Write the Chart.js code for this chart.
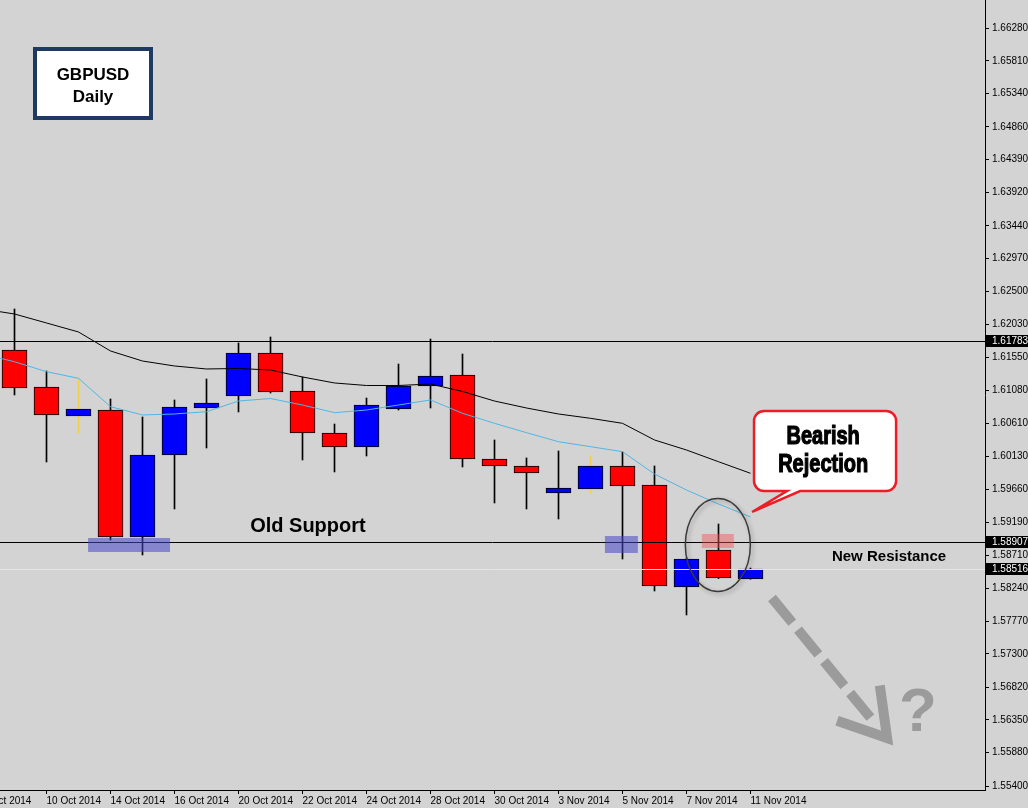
<!DOCTYPE html>
<html>
<head>
<meta charset="utf-8">
<script src="https://cdn.jsdelivr.net/npm/chart.js@4.4.1/dist/chart.umd.min.js"></script>
<style>
  html, body { margin: 0; padding: 0; background: #d3d3d3; }
  #caixa { width: 1028px; height: 808px; }
</style>
</head>
<body>
<div id="caixa"><canvas id="grafico" width="1028" height="808"></canvas></div>
<script>
// daily bars, GBPUSD (first day only feeds the moving averages, it sits off screen)
const dates = ['8 Oct 2014', '9 Oct 2014', '10 Oct 2014', '13 Oct 2014', '14 Oct 2014', '15 Oct 2014',
  '16 Oct 2014', '17 Oct 2014', '20 Oct 2014', '21 Oct 2014', '22 Oct 2014', '23 Oct 2014',
  '24 Oct 2014', '27 Oct 2014', '28 Oct 2014', '29 Oct 2014', '30 Oct 2014', '31 Oct 2014',
  '3 Nov 2014', '4 Nov 2014', '5 Nov 2014', '6 Nov 2014', '7 Nov 2014', '10 Nov 2014', '11 Nov 2014'];

const opens  = [null, 1.61659, 1.61128, 1.60712, 1.60798, 1.58976, 1.60153, 1.60827, 1.60999, 1.61616,
  1.61071, 1.60468, 1.60267, 1.60813, 1.61143, 1.61300, 1.60095, 1.59995, 1.59607, 1.59665,
  1.59995, 1.59722, 1.58258, 1.58789, 1.58373];
const highs  = [null, 1.62248, 1.61358, 1.61243, 1.60956, 1.60698, 1.60942, 1.61243, 1.61760, 1.61846,
  1.61272, 1.60597, 1.60970, 1.61458, 1.61817, 1.61602, 1.60368, 1.60110, 1.60210, 1.60138,
  1.60196, 1.59995, 1.58675, 1.59162, 1.58530];
const lows   = [null, 1.61014, 1.60052, 1.60468, 1.58933, 1.58718, 1.59378, 1.60253, 1.60770, 1.61042,
  1.60081, 1.59909, 1.60138, 1.60798, 1.60827, 1.59980, 1.59464, 1.59378, 1.59234, 1.59607,
  1.58660, 1.58201, 1.57857, 1.58380, 1.58370];
const closes = [null, 1.61114, 1.60727, 1.60813, 1.58976, 1.60153, 1.60841, 1.60899, 1.61616, 1.61057,
  1.60468, 1.60267, 1.60870, 1.61143, 1.61286, 1.60095, 1.59995, 1.59894, 1.59679, 1.59995,
  1.59708, 1.58273, 1.58660, 1.58387, 1.58516];

const maSlow = [1.62248, 1.62176, 1.62047, 1.61918, 1.61645, 1.61501, 1.61430, 1.61387, 1.61394, 1.61372,
  1.61272, 1.61186, 1.61150, 1.61150, 1.61171, 1.61064, 1.60927, 1.60827, 1.60741, 1.60679,
  1.60607, 1.60368, 1.60224, 1.60056, 1.59890];
const maFast = [1.61602, 1.61491, 1.61348, 1.61253, 1.60846, 1.60727, 1.60741, 1.60774, 1.60927, 1.60963,
  1.60870, 1.60760, 1.60798, 1.60870, 1.60942, 1.60751, 1.60607, 1.60473, 1.60343, 1.60272,
  1.60200, 1.59880, 1.59650, 1.59449, 1.59263];

const priceTicks = [1.66280, 1.65810, 1.65340, 1.64860, 1.64390, 1.63920, 1.63440, 1.62970, 1.62500,
  1.62030, 1.61550, 1.61080, 1.60610, 1.60130, 1.59660, 1.59190, 1.58710, 1.58240, 1.57770,
  1.57300, 1.56820, 1.56350, 1.55880, 1.55400];
const dateTicks = [0, 2, 4, 6, 8, 10, 12, 14, 16, 18, 20, 22, 24];

const levelPrices = [1.61783, 1.58907, 1.58516]; // drawn lines + price tags
const yellowWicks = ['13 Oct 2014', '4 Nov 2014'];

// ---- estilos
const corAlta = '#0000ff';
const corBaixa = '#ff0000';
const levelColors = ['#000000', '#000000', '#e4e4e4'];

const dias = dates.map((d, i) => i).filter(i => opens[i] !== null);
const corpos = dias.map(i => ({ x: i, y: [opens[i], closes[i]] }));
const pavios = dias.map(i => ({ x: i, y: [lows[i], highs[i]] }));
const corCorpo = dias.map(i => closes[i] >= opens[i] ? corAlta : corBaixa);
const corPavio = dias.map(i => yellowWicks.includes(dates[i]) ? '#f2d04a' : '#000000');

function semPadding(s) {
  s.paddingLeft = 0; s.paddingRight = 0; s.paddingTop = 0; s.paddingBottom = 0;
}

const marcas = {
  id: 'marcas',
  afterDatasetsDraw(chart) {
    const ctx = chart.ctx;
    const X = v => chart.scales.x.getPixelForValue(v);
    const Y = v => chart.scales.y.getPixelForValue(v);
    const area = chart.chartArea;
    ctx.save();

    // horizontal levels
    levelPrices.forEach((p, k) => {
      const y = Math.round(Y(p)) + 0.5;
      ctx.strokeStyle = levelColors[k];
      ctx.lineWidth = 1;
      ctx.beginPath();
      ctx.moveTo(area.left, y);
      ctx.lineTo(area.right, y);
      ctx.stroke();
    });

    // support zones
    ctx.fillStyle = 'rgba(70,70,200,0.55)';
    [[3.30, 5.86, 1.58961, 1.58761], [19.45, 20.48, 1.58990, 1.58746]].forEach(z => {
      ctx.fillRect(X(z[0]), Y(z[2]), X(z[1]) - X(z[0]), Y(z[3]) - Y(z[2]));
    });
    ctx.fillStyle = 'rgba(240,80,80,0.45)';
    ctx.fillRect(X(22.48), Y(1.59019), X(23.48) - X(22.48), Y(1.58818) - Y(1.59019));

    // ellipse round the rejection candle
    ctx.save();
    ctx.shadowColor = 'rgba(0,0,0,0.3)';
    ctx.shadowBlur = 4;
    ctx.shadowOffsetX = 2;
    ctx.shadowOffsetY = 2;
    ctx.strokeStyle = '#3a3a3a';
    ctx.lineWidth = 1.5;
    ctx.beginPath();
    ctx.ellipse(X(22.98), Y(1.58861), 32.5, 46.5, 0, 0, Math.PI * 2);
    ctx.stroke();
    ctx.restore();

    // texts
    ctx.fillStyle = '#000';
    ctx.textAlign = 'center';
    ctx.textBaseline = 'middle';
    ctx.font = 'bold 20px "Liberation Sans", Arial, sans-serif';
    ctx.fillText('Old Support', X(10.17), Y(1.59120));
    ctx.font = 'bold 15px "Liberation Sans", Arial, sans-serif';
    ctx.fillText('New Resistance', X(28.33), Y(1.58689));

    // callout
    const L = X(24.11), R = X(28.55), T = Y(1.60784), B = Y(1.59636), r = 10;
    ctx.beginPath();
    ctx.moveTo(L + r, T);
    ctx.lineTo(R - r, T);
    ctx.arcTo(R, T, R, T + r, r);
    ctx.lineTo(R, B - r);
    ctx.arcTo(R, B, R - r, B, r);
    ctx.lineTo(X(25.55), B);
    ctx.lineTo(X(24.05), Y(1.59335));
    ctx.lineTo(X(25.14), B);
    ctx.lineTo(L + r, B);
    ctx.arcTo(L, B, L, B - r, r);
    ctx.lineTo(L, T + r);
    ctx.arcTo(L, T, L + r, T, r);
    ctx.closePath();
    ctx.fillStyle = '#ffffff';
    ctx.fill();
    ctx.strokeStyle = '#ee1c25';
    ctx.lineWidth = 2.5;
    ctx.stroke();
    ctx.fillStyle = '#000';
    ctx.strokeStyle = '#000';
    ctx.lineWidth = 1.2;
    ctx.font = 'bold 25px "Liberation Sans", Arial, sans-serif';
    const cx = X(26.27);
    ctx.save();
    ctx.translate(cx, 0);
    ctx.scale(0.8, 1);
    ctx.fillText('Bearish', 0, Y(1.60411));
    ctx.strokeText('Bearish', 0, Y(1.60411));
    ctx.fillText('Rejection', 0, Y(1.60009));
    ctx.strokeText('Rejection', 0, Y(1.60009));
    ctx.restore();

    // dashed arrow and question mark
    const x0 = X(24.67), y0 = Y(1.58101), x1 = X(28.27), y1 = Y(1.56091);
    const ang = Math.atan2(y1 - y0, x1 - x0);
    ctx.strokeStyle = '#9b9b9b';
    ctx.lineWidth = 10;
    ctx.setLineDash([32, 9]);
    ctx.beginPath();
    ctx.moveTo(x0, y0);
    ctx.lineTo(x1 - 20 * Math.cos(ang), y1 - 20 * Math.sin(ang));
    ctx.stroke();
    ctx.setLineDash([]);
    ctx.lineCap = 'square';
    ctx.beginPath();
    ctx.moveTo(x1 - 48 * Math.cos(ang - 0.55), y1 - 48 * Math.sin(ang - 0.55));
    ctx.lineTo(x1, y1);
    ctx.lineTo(x1 - 48 * Math.cos(ang + 0.55), y1 - 48 * Math.sin(ang + 0.55));
    ctx.stroke();
    ctx.fillStyle = '#9b9b9b';
    ctx.font = 'bold 62px "Liberation Sans", Arial, sans-serif';
    ctx.fillText('?', X(29.23), Y(1.56465) + 2);

    // symbol label (fixed on screen)
    ctx.fillStyle = '#ffffff';
    ctx.fillRect(33, 47, 120, 73);
    ctx.strokeStyle = '#1f3a62';
    ctx.lineWidth = 4;
    ctx.strokeRect(35, 49, 116, 69);
    ctx.fillStyle = '#000';
    ctx.font = 'bold 17px "Liberation Sans", Arial, sans-serif';
    ctx.fillText('GBPUSD', 93, 75);
    ctx.fillText('Daily', 93, 97);

    // price tags on the axis
    ctx.font = '10px "Liberation Sans", Arial, sans-serif';
    ctx.textAlign = 'left';
    levelPrices.forEach(p => {
      const y = Math.round(Y(p));
      ctx.fillStyle = '#000';
      ctx.fillRect(area.right + 1, y - 6, 1028 - area.right, 12);
      ctx.fillStyle = '#fff';
      ctx.fillText(p.toFixed(5), area.right + 7, y + 0.5);
    });
    ctx.restore();
  }
};

new Chart(document.getElementById('grafico'), {
  data: {
    datasets: [
      { type: 'line', data: maSlow.map((v, i) => ({ x: i, y: v })), borderColor: '#000000', borderWidth: 1,
        pointRadius: 0, tension: 0, order: 1 },
      { type: 'line', data: maFast.map((v, i) => ({ x: i, y: v })), borderColor: '#4fb6e3', borderWidth: 1,
        pointRadius: 0, tension: 0, order: 1 },
      { type: 'bar', data: corpos, backgroundColor: corCorpo, borderColor: '#000000', borderWidth: 1,
        borderSkipped: false, barThickness: 25, grouped: false, order: 2 },
      { type: 'bar', data: pavios, backgroundColor: corPavio, borderWidth: 0,
        barThickness: 1, grouped: false, order: 3 }
    ]
  },
  options: {
    responsive: false,
    animation: false,
    devicePixelRatio: 1,
    layout: { padding: 0, autoPadding: false },
    plugins: { legend: { display: false }, tooltip: { enabled: false } },
    scales: {
      x: {
        type: 'linear',
        min: 0.546875,
        max: 31.328125,
        offset: false,
        position: 'bottom',
        border: { display: true, color: '#000000', width: 1 },
        grid: { display: true, drawOnChartArea: false, drawTicks: true, tickLength: 4, color: '#000000', offset: false },
        afterBuildTicks: s => { s.ticks = dateTicks.map(v => ({ value: v })); },
        afterFit: s => { s.height = 18; semPadding(s); },
        ticks: {
          autoSkip: false, maxRotation: 0, align: 'start', padding: 1, color: '#000000',
          font: { family: '"Liberation Sans", Arial, sans-serif', size: 10 },
          callback: v => dates[v]
        }
      },
      y: {
        type: 'linear',
        position: 'right',
        min: 1.55345,
        max: 1.66682,
        border: { display: true, color: '#000000', width: 1 },
        grid: { display: true, drawOnChartArea: false, drawTicks: true, tickLength: 4, color: '#000000' },
        afterBuildTicks: s => { s.ticks = priceTicks.map(v => ({ value: v })); },
        afterFit: s => { s.width = 43; semPadding(s); },
        ticks: {
          autoSkip: false, padding: 3, color: '#000000',
          font: { family: '"Liberation Sans", Arial, sans-serif', size: 10 },
          callback: v => v.toFixed(5)
        }
      }
    }
  },
  plugins: [marcas]
});
</script>
</body>
</html>
